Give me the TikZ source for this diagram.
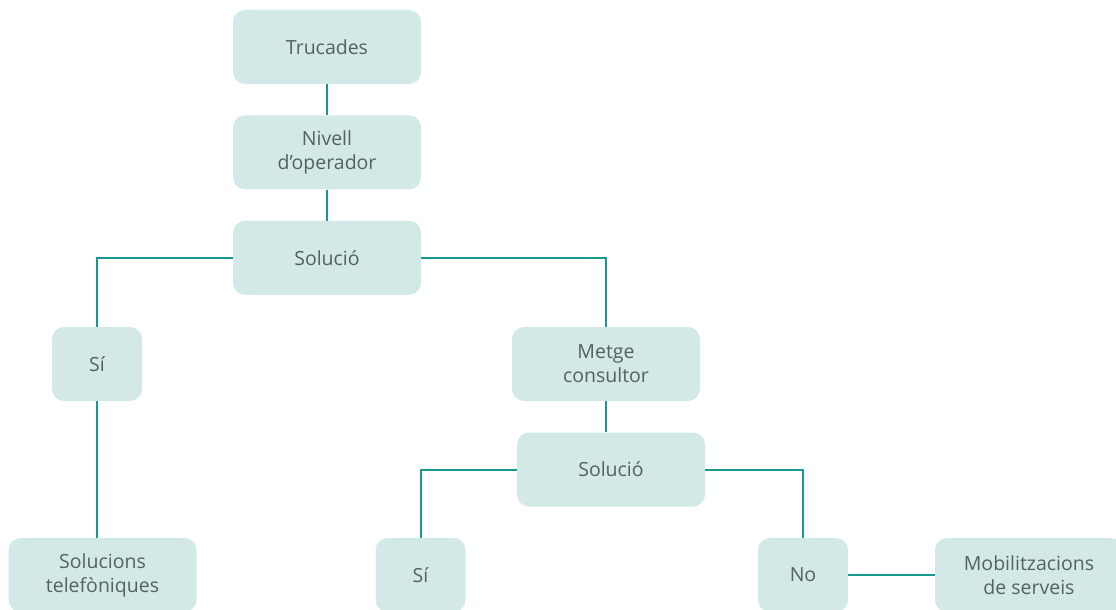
\documentclass[tikz,border=0pt]{standalone}
\usepackage{fontspec}
\setmainfont{Open Sans}
\usetikzlibrary{positioning}
\definecolor{boxfill}{HTML}{D3E9E8}
\definecolor{boxtext}{HTML}{56605F}
\definecolor{linkcol}{HTML}{16998F}
\begin{document}
\begin{tikzpicture}[
		x=1pt, y=-1pt,
		box/.style={fill=boxfill, rounded corners=12pt, align=center, inner sep=0pt,
			minimum width=188pt, minimum height=74pt, text=boxtext,
			font=\fontsize{19.5}{24}\selectfont},
		small/.style={box, minimum width=90pt},
		link/.style={draw=linkcol, line width=2pt},
		node distance=31pt and 3mm
	]
	\useasboundingbox (0,0) rectangle (1116,610);
	\node[box] (calls) at (327,47) {Trucades};
	\node[box, below=of calls] (oper) {Nivell\\ d’operador};
	\node[box, below=of oper] (sol) {Solució};

	\node[small] (yes) at (97,364) {Sí};
	\node[box] (doctor) at (606,364) {Metge\\ consultor};
	\node[box] (soltwo) at (611,469.5) {Solució};

	\node[box] (phone) at (102.5,575) {Solucions\\ telefòniques};
	\node[small] (yestwo) at (420.5,575) {Sí};
	\node[small] (no) at (803,575) {No};
	\node[box] (mob) at (1029,575) {Mobilitzacions\\ de serveis};

	\draw[link] (calls) -- (oper);
	\draw[link] (oper) -- (sol);
	\draw[link] (sol.west) -| (yes.north);
	\draw[link] (sol.east) -| (doctor.north);
	\draw[link] (yes.south) -- (yes.south |- phone.north);
	\draw[link] (doctor.south) -- (doctor.south |- soltwo.north);
	\draw[link] (soltwo.west) -| (yestwo.north);
	\draw[link] (soltwo.east) -| (no.north);
	\draw[link] (no) -- (mob);
\end{tikzpicture}
\end{document}
